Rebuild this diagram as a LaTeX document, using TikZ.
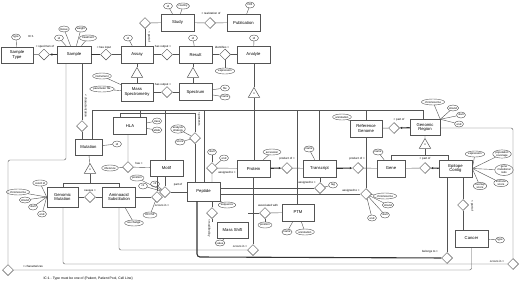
\documentclass[tikz,border=0pt]{standalone}
\usepackage{fontspec}
\setmainfont{Liberation Sans}
\usetikzlibrary{shapes.geometric,arrows.meta}
\definecolor{lc}{gray}{0.33}
\begin{document}
\begin{tikzpicture}[x=1pt,y=-1pt,
  ent/.style={draw=lc,line width=0.5pt,rectangle,minimum width=33pt,minimum height=17pt,inner sep=0.3pt,align=center,font=\fontsize{4.2}{4.7}\selectfont,fill=white},
  attr/.style={draw=lc,line width=0.4pt,ellipse,inner sep=0.1pt,minimum height=6pt,minimum width=9pt,align=center,font=\fontsize{2.8}{3}\selectfont,fill=white},
  rel/.style={draw=lc,line width=0.5pt,diamond,minimum width=11pt,minimum height=11pt,inner sep=0pt,fill=white},
  isa/.style={draw=lc,line width=0.5pt,regular polygon,regular polygon sides=3,minimum size=13pt,inner sep=0pt,fill=white,font=\fontsize{3}{3}\selectfont},
  lab/.style={font=\fontsize{2.9}{3.1}\selectfont,inner sep=0.3pt},
  ln/.style={draw=lc,line width=0.4pt},
  bold/.style={draw=black!80,line width=1.1pt},
  ar/.style={-{Latex[length=2.5pt,width=2.5pt]}}
]
\useasboundingbox[fill=white] (0,0) rectangle (520,284);
% ---------- entities
\node[ent,minimum width=32pt,minimum height=16pt] (stype) at (17,55) {Sample\\Type};
\node[ent,minimum width=34pt] (sample) at (74,54.5) {Sample};
\node[ent,minimum width=32pt] (assay) at (137,54.5) {Assay};
\node[ent] (study) at (177.5,22.5) {Study};
\node[ent] (pub) at (243.5,22.5) {Publication};
\node[ent] (result) at (195.5,54.5) {Result};
\node[ent] (analyte) at (253.5,54.5) {Analyte};
\node[ent,minimum width=32pt,minimum height=18pt] (ms) at (137,92) {Mass\\Spectrometry};
\node[ent] (spectrum) at (195.5,92) {Spectrum};
\node[ent] (hla) at (130,126) {HLA};
\node[ent,minimum width=27pt,minimum height=16pt] (mutation) at (88.5,147) {Mutation};
\node[ent,minimum height=16pt] (motif) at (166.5,168) {Motif};
\node[ent,minimum height=19pt] (peptide) at (203.5,191.5) {Peptide};
\node[ent,minimum width=31pt,minimum height=20pt] (gmut) at (62.5,197) {Genomic\\Mutation};
\node[ent,minimum height=20pt] (aasub) at (119,197) {Aminoacid\\Substitution};
\node[ent] (protein) at (253.5,168.5) {Protein};
\node[ent] (transcript) at (319.5,168.5) {Transcript};
\node[ent,minimum width=32pt] (refgen) at (366,128.5) {Reference\\Genome};
\node[ent,minimum width=28pt] (gene) at (391,168.5) {Gene};
\node[ent,minimum width=30pt,minimum height=16pt] (greg) at (425,127.5) {Genomic\\Region};
\node[ent] (epc) at (455.5,168.5) {Epitope\\Contig};
\node[ent,minimum width=32pt] (ptm) at (298,212.5) {PTM};
\node[ent,minimum width=31pt,minimum height=16pt] (mshift) at (232.5,230) {Mass Shift};
\node[ent] (cancer) at (471.5,238.5) {Cancer};
% ---------- relationships
\node[rel] (rspec) at (44,54.5) {};
\node[rel] (rinput) at (106,54.5) {};
\node[rel] (rpart1) at (145,23) {};
\node[rel] (rreal) at (210,23) {};
\node[rel] (rout1) at (167,54.5) {};
\node[rel] (rident) at (225,54.5) {};
\node[rel] (rout2) at (167,92) {};
\node[rel] (rmutchar) at (82,126) {};
\node[rel] (rhas) at (128,167) {};
\node[rel] (rpres) at (195,138) {};
\node[rel] (rmpart) at (165,192) {};
\node[rel] (rocc3) at (157,197) {};
\node[rel] (rasg1) at (212,168) {};
\node[rel] (rprod1) at (287,168) {};
\node[rel] (rprod2) at (358,168) {};
\node[rel] (rasg2) at (320,188) {};
\node[rel] (rasg3) at (366,194) {};
\node[rel] (rpart3) at (394,128) {};
\node[rel] (rpart2) at (425,168) {};
\node[rel] (rmod) at (212,213) {};
\node[rel] (rassoc) at (265,213) {};
\node[rel] (rocc2) at (253,250) {};
\node[rel] (rbelong) at (447,258) {};
\node[rel] (rocc1) at (513,264) {};
\node[rel] (rchar) at (8,270) {};
\node[rel] (rcpart) at (463,205) {};
\node[rel] (rcause) at (90,197) {};
% ---------- isa triangles
\node[isa] (isa1) at (137,74) {};
\node[isa] (isa2) at (193,74) {};
\node[isa] (isa3) at (254,94) {x};
\node[isa] (isa4) at (425,145) {x};
\node[isa] (isa5) at (90,170) {x};
% ---------- attributes
\node[attr] (a1) at (16,37) {type};
\node[attr] (a2) at (64,29) {tissue};
\node[attr] (a3) at (81,29) {weight};
\node[attr] (a4) at (59,38) {id};
\node[attr] (a5) at (88,38) {treatment};
\node[attr] (a6) at (128,38) {id};
\node[attr] (a7) at (102,76) {instrument};
\node[attr] (a8) at (102,89) {parameter file};
\node[attr] (a9) at (168,6) {id};
\node[attr] (a10) at (183,6) {country};
\node[attr] (a11) at (250,5) {DOI};
\node[attr] (a12) at (193,38) {id};
\node[attr] (a13) at (225,71) {expression};
\node[attr] (a14) at (254,38) {id};
\node[attr] (a15) at (225,88) {file};
\node[attr] (a16) at (225,97) {name};
\node[attr] (a17) at (157,121) {class};
\node[attr] (a18) at (157,130) {allele};
\node[attr] (a19) at (117,144) {id};
\node[attr] (a20) at (110,168) {inference};
\node[attr] (a21) at (178,129) {analysis\\strategy};
\node[attr] (a22) at (180,142) {score};
\node[attr] (a23) at (137,178) {position};
\node[attr] (a24) at (143,186) {c1};
\node[attr] (a25) at (155,184) {c2};
\node[attr] (a26) at (150,215) {HCVSP};
\node[attr] (a27) at (134,223) {aa change};
\node[attr] (a28) at (212,152) {start};
\node[attr] (a29) at (224,158) {end};
\node[attr] (a30) at (272,152) {accession};
\node[attr] (a31) at (309,149) {name};
\node[attr] (a32) at (333,185) {tag};
\node[attr] (a33) at (378,152) {name};
\node[attr] (a34) at (342,117) {annotation};
\node[attr] (a35) at (433,102) {chromosome};
\node[attr] (a36) at (453,108) {strand};
\node[attr] (a37) at (461,115) {start};
\node[attr] (a38) at (459,124) {end};
\node[attr] (a39) at (475,154) {expression};
\node[attr] (a40) at (502,154) {population\\coverage};
\node[attr] (a41) at (504,170) {gene\\mutational\\ratio};
\node[attr] (a42) at (501,183) {immune\\score};
\node[attr] (a43) at (480,186) {overlap\\score};
\node[attr] (a44) at (385,196) {chromosome};
\node[attr] (a45) at (388,205) {strand};
\node[attr] (a46) at (385,215) {start};
\node[attr] (a47) at (372,218) {end};
\node[attr] (a48) at (227,205) {sequence};
\node[attr] (a49) at (220,243) {value};
\node[attr] (a50) at (265,225) {position};
\node[attr] (a51) at (287,232) {name};
\node[attr] (a52) at (305,232) {annotation};
\node[attr] (a53) at (500,240) {type};
\node[attr] (a54) at (40,183) {coord id};
\node[attr] (a55) at (18,192) {chromosome};
\node[attr] (a56) at (25,200) {strand};
\node[attr] (a57) at (33,207) {start};
\node[attr] (a58) at (42,214) {end};
% ---------- labels
\node[lab] at (31,36) {IC:1};
\node[lab] at (45,47) {< specimen of};
\node[lab] at (104,48) {< has input};
\node[lab,rotate=-90] at (149,37) {< part of};
\node[lab] at (211,13) {< realization of};
\node[lab] at (163,47) {has output >};
\node[lab] at (222,47) {identifies >};
\node[lab] at (163,85) {has output >};
\node[lab,rotate=-90] at (86,106) {< characterization};
\node[lab] at (139,163) {has >};
\node[lab] at (178,185) {part of};
\node[lab] at (162,205) {occurs in >};
\node[lab,rotate=-90] at (199,119) {< presents};
\node[lab] at (227,173) {assigned to >};
\node[lab] at (287,159) {product of >};
\node[lab] at (357,159) {product of >};
\node[lab] at (307,183) {assigned to >};
\node[lab] at (351,191) {assigned to >};
\node[lab] at (399,120) {< part of};
\node[lab] at (425,159) {< part of};
\node[lab] at (268,205) {associated with};
\node[lab,rotate=-90] at (209,228) {< modified by};
\node[lab] at (240,246) {occurs in >};
\node[lab] at (430,252) {belongs to >};
\node[lab] at (497,261) {occurs in >};
\node[lab] at (33,266) {< characterizes};
\node[lab] at (90,191) {causes >};
\node[lab,rotate=-90] at (472,206) {< part of};
\node[lab,anchor=west,font=\fontsize{3.4}{3.6}\selectfont] at (43,279) {IC:1 - Type must be one of \{Patient, Patient Pool, Cell Line\}};
% ---------- connectors (top row)
\draw[ln] (stype) -- (rspec);
\draw[bold,ar] (sample) -- (rspec);
\draw[bold] (sample) -- (rinput);
\draw[ln] (rinput) -- (assay);
\draw[ln] (rpart1) -- (study);
\draw[ln] (rpart1) -- (rpart1 |- assay.north);
\draw[ln] (study) -- (rreal) -- (pub);
\draw[ln] (assay) -- (rout1) -- (result);
\draw[ln] (result) -- (rident) -- (analyte);
\draw[ln] (rident) -- (a13);
\draw[ln] (assay) -- (isa1) -- (ms);
\draw[ln] (result.south -| isa2) -- (isa2) -- (spectrum.north -| isa2);
\draw[ln] (ms) -- (rout2) -- (spectrum);
\draw[ln] (analyte.south -| isa3) -- (isa3);
\foreach \a/\e in {a1/stype,a2/sample,a3/sample,a4/sample,a5/sample,a6/assay,a7/ms,a8/ms,a9/study,a10/study,a11/pub,a12/result,a14/analyte,a15/spectrum,a16/spectrum,a17/hla,a18/hla,a19/mutation,a30/protein,a31/transcript,a33/gene,a34/refgen,a48/peptide,a49/mshift,a51/ptm,a52/ptm,a53/cancer}
  \draw[ln] (\a) -- (\e);
\foreach \a in {a35,a36,a37,a38} \draw[ln] (\a) -- (greg.north east);
\foreach \a in {a39,a40,a41,a42,a43} \draw[ln] (\a) -- (epc.east);
\foreach \a in {a54,a55,a56,a57,a58} \draw[ln] (\a) -- (gmut.west);
\foreach \a in {a44,a45,a46,a47} \draw[ln] (\a) -- (rasg3);
% ---------- analyte isa bar
\coordinate (b0) at (254,110);
\coordinate (bL) at (92,110);
\coordinate (bR) at (423,110);
\draw[ln] (isa3) -- (b0);
\draw[ln] (bL) -- (bR);
\foreach \n/\x in {mutation/92,hla/140,motif/165,peptide/204,protein/254,ptm/297,transcript/319,refgen/366,greg/423}{
  \path (\x,110) coordinate (tmp);
  \draw[ln] (tmp) -- (tmp |- \n.north);
}
% ---------- sample / mutation
\draw[ln] (sample.south -| rmutchar) -- (rmutchar) -- (mutation.north -| rmutchar);
\coordinate (c1) at (66,160);
\coordinate (c2) at (8,160);
\draw[ln,rounded corners=2pt] (sample.south -| c1) -- (c1) -- (c2) -- (rchar);
\draw[ln,rounded corners=2pt] (rchar) -- (cancer.south |- rchar) -- (cancer.south);
\draw[ln] (mutation) -- (isa5);
\coordinate (m1) at (63,183);
\coordinate (m2) at (119,183);
\draw[ln] (isa5) -- (isa5 |- m1);
\draw[ln] (m1) -- (m2);
\draw[ln] (m1) -- (gmut.north -| m1);
\draw[ln] (m2) -- (aasub.north -| m2);
\draw[ln] (gmut) -- (rcause) -- (aasub);
% ---------- HLA / motif / peptide
\draw[ln] (hla.south -| rhas) -- (rhas) -- (motif);
\draw[ln] (a20) -- (rhas);
\coordinate (h1) at (120,113);
\coordinate (h2) at (195,113);
\draw[ln] (hla.north -| h1) -- (h1) -- (h2) -- (rpres) -- (rpres |- peptide.north);
\draw[ln] (a21) -- (rpres);
\draw[ln] (a22) -- (rpres);
\draw[ln] (motif.south -| rmpart) -- (rmpart) -- (peptide.west |- rmpart);
\foreach \a in {a23,a24,a25} \draw[ln] (\a) -- (rmpart);
\draw[ln] (aasub.east |- rocc3) -- (rocc3);
\draw[ln] (rocc3) -- (motif.south -| rocc3);
\draw[ln] (a26) -- (rocc3);
\draw[ln] (a27) -- (aasub);
\draw[ln] (peptide.north -| rasg1) -- (rasg1) -- (protein);
\draw[ln] (a28) -- (rasg1);
\draw[ln] (a29) -- (rasg1);
\draw[bold,ar] (protein) -- (rprod1);
\draw[ln] (rprod1) -- (transcript);
\draw[bold,ar] (transcript) -- (rprod2);
\draw[ln] (rprod2) -- (gene);
\draw[ln] (transcript.south -| rasg2) -- (rasg2) -- (peptide.east |- rasg2);
\draw[ln] (a32) -- (rasg2);
\draw[ln] (refgen.south -| rasg3) -- (rasg3);
\draw[ln] (rasg3) -- (peptide.east |- rasg3);
\draw[ln] (refgen) -- (rpart3);
\draw[bold,ar] (greg) -- (rpart3);
\draw[ln] (gene) -- (rpart2);
\draw[bold,ar] (epc) -- (rpart2);
\draw[ln] (greg) -- (isa4);
\coordinate (g1) at (391,155);
\coordinate (g2) at (448,155);
\draw[ln] (isa4) -- (isa4 |- g1);
\draw[ln] (g1) -- (g2);
\draw[ln] (g1) -- (gene.north -| g1);
\draw[ln] (g2) -- (epc.north -| g2);
% ---------- peptide mods
\draw[ln] (peptide.south -| rmod) -- (rmod) -- (rmod |- mshift.north);
\draw[ln] (rassoc) -- (ptm);
\draw[ln] (rassoc) -- (mshift.east |- rassoc);
\draw[ln] (a50) -- (rassoc);
\coordinate (o2) at (119,250);
\draw[ln,rounded corners=2pt] (aasub.south -| o2) -- (o2) -- (rocc2);
\draw[ln] (rocc2) -- (protein.south -| rocc2);
\coordinate (p1) at (197,257);
\draw[bold,rounded corners=3pt] (peptide.south -| p1) -- (p1) -- (rbelong);
\draw[ln] (rbelong) -- (epc.south -| rbelong);
\draw[ln] (epc.south -| rcpart) -- (rcpart) -- (cancer.north -| rcpart);
\coordinate (o1) at (63,264);
\draw[ln,rounded corners=2pt] (gmut.south -| o1) -- (o1) -- (rocc1);
\coordinate (o3) at (513,128);
\draw[ln,rounded corners=2pt] (rocc1) -- (o3) -- (greg.east |- o3);
\end{tikzpicture}
\end{document}
